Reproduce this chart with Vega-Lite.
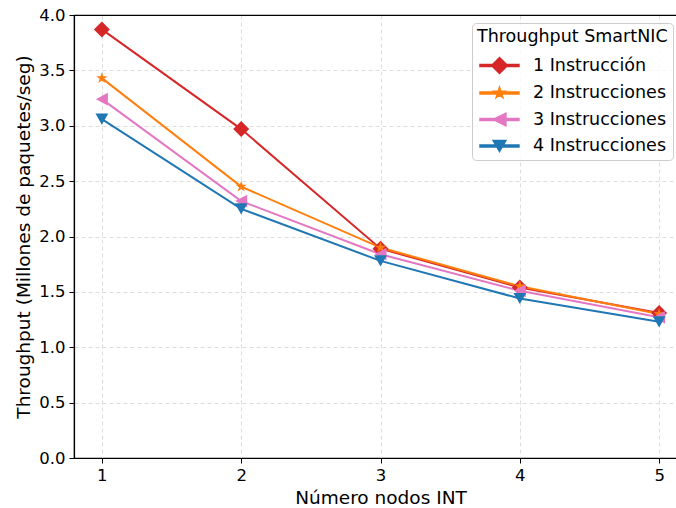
{
  "$schema": "https://vega.github.io/schema/vega-lite/v6.json",
  "width": 613,
  "height": 443,
  "autosize": {"type": "none"},
  "padding": {"left": 74, "top": 15, "right": 0, "bottom": 50},
  "background": "white",
  "config": {
    "font": "DejaVu Sans",
    "view": {"stroke": "black", "strokeWidth": 1.2},
    "axis": {
      "domainColor": "black", "domainWidth": 1.2,
      "tickColor": "black", "tickSize": 5, "tickWidth": 1,
      "labelColor": "black", "labelFontSize": 16.5, "labelFont": "DejaVu Sans",
      "titleColor": "black", "titleFontSize": 18.5, "titleFontWeight": "normal", "titleFont": "DejaVu Sans",
      "gridWidth": 0.9
    }
  },
  "data": {"values": [
    {"serie": "1 Instrucción", "nodos": 1, "tp": 3.87},
    {"serie": "1 Instrucción", "nodos": 2, "tp": 2.97},
    {"serie": "1 Instrucción", "nodos": 3, "tp": 1.89},
    {"serie": "1 Instrucción", "nodos": 4, "tp": 1.54},
    {"serie": "1 Instrucción", "nodos": 5, "tp": 1.31},
    {"serie": "2 Instrucciones", "nodos": 1, "tp": 3.43},
    {"serie": "2 Instrucciones", "nodos": 2, "tp": 2.45},
    {"serie": "2 Instrucciones", "nodos": 3, "tp": 1.90},
    {"serie": "2 Instrucciones", "nodos": 4, "tp": 1.55},
    {"serie": "2 Instrucciones", "nodos": 5, "tp": 1.30},
    {"serie": "3 Instrucciones", "nodos": 1, "tp": 3.24},
    {"serie": "3 Instrucciones", "nodos": 2, "tp": 2.32},
    {"serie": "3 Instrucciones", "nodos": 3, "tp": 1.84},
    {"serie": "3 Instrucciones", "nodos": 4, "tp": 1.51},
    {"serie": "3 Instrucciones", "nodos": 5, "tp": 1.27},
    {"serie": "4 Instrucciones", "nodos": 1, "tp": 3.06},
    {"serie": "4 Instrucciones", "nodos": 2, "tp": 2.25},
    {"serie": "4 Instrucciones", "nodos": 3, "tp": 1.78},
    {"serie": "4 Instrucciones", "nodos": 4, "tp": 1.44},
    {"serie": "4 Instrucciones", "nodos": 5, "tp": 1.23}
  ]},
  "encoding": {
    "x": {
      "field": "nodos", "type": "quantitative",
      "scale": {"domain": [0.8, 5.2], "nice": false, "zero": false},
      "axis": {"values": [1, 2, 3, 4, 5], "format": "d", "title": "Número nodos INT", "labelPadding": 4, "titlePadding": 5, "grid": true, "gridColor": "#d8d8d8", "gridDash": [4, 3]}
    },
    "y": {
      "field": "tp", "type": "quantitative",
      "scale": {"domain": [0, 4], "nice": false},
      "axis": {
        "values": [0, 0.5, 1, 1.5, 2, 2.5, 3, 3.5, 4], "format": ".1f",
        "title": "Throughput (Millones de paquetes/seg)", "labelPadding": 4, "titlePadding": 5, "grid": true,
        "gridColor": {"condition": {"test": "datum.value >= 4", "value": "black"}, "value": "#d8d8d8"},
        "gridDash": {"condition": {"test": "datum.value >= 4", "value": []}, "value": [4, 3]},
        "gridWidth": {"condition": {"test": "datum.value >= 4", "value": 1.2}, "value": 0.9}
      }
    },
    "color": {
      "field": "serie", "type": "nominal",
      "scale": {
        "domain": ["1 Instrucción", "2 Instrucciones", "3 Instrucciones", "4 Instrucciones"],
        "range": ["#d62728", "#ff7f0e", "#e377c2", "#1f77b4"]
      },
      "legend": {
        "title": "Throughput SmartNIC",
        "orient": "none", "legendX": 398, "legendY": 8,
        "padding": 5,
        "fillColor": "rgba(255,255,255,0.8)", "strokeColor": "#cccccc", "cornerRadius": 4,
        "titleFontSize": 17.5, "titleFontWeight": "normal", "titleColor": "black", "titlePadding": 11, "titleLimit": 400,
        "labelFontSize": 17.5, "labelColor": "black", "labelOffset": 38, "labelLimit": 400,
        "symbolSize": 256, "rowPadding": 7.5,
        "encode": {
          "symbols": {
            "update": {
              "shape": {"signal": "datum.value === '1 Instrucción' ? 'M-0.75,-0.12H4.12V0.12H-0.75Z M0.69,0L1.69,-1L2.69,0L1.69,1Z' : datum.value === '2 Instrucciones' ? 'M-0.75,-0.12H4.12V0.12H-0.75Z M1.69,-0.72L1.852,-0.222L2.375,-0.222L1.951,0.085L2.113,0.582L1.69,0.275L1.267,0.582L1.429,0.085L1.005,-0.222L1.528,-0.222Z' : datum.value === '3 Instrucciones' ? 'M-0.75,-0.12H4.12V0.12H-0.75Z M0.89,0L2.49,-0.8L2.49,0.8Z' : 'M-0.75,-0.12H4.12V0.12H-0.75Z M0.89,-0.7L2.49,-0.7L1.69,0.7Z'"},
              "fill": {"scale": "color", "field": "value"},
              "stroke": {"value": "transparent"},
              "opacity": {"value": 1},
              "fillOpacity": {"value": 1}
            }
          }
        }
      }
    }
  },
  "layer": [
    {
      "mark": {"type": "line", "strokeWidth": 2}
    },
    {
      "transform": [{"filter": "datum.serie === '1 Instrucción'"}],
      "mark": {"type": "point", "filled": true, "opacity": 1, "size": 256, "shape": "M-1,0L0,-1L1,0L0,1Z"}
    },
    {
      "transform": [{"filter": "datum.serie === '2 Instrucciones'"}],
      "mark": {"type": "point", "filled": true, "opacity": 1, "size": 256, "shape": "M0,-0.75L0.168,-0.232L0.713,-0.232L0.272,0.089L0.441,0.607L0,0.287L-0.441,0.607L-0.272,0.089L-0.713,-0.232L-0.168,-0.232Z"}
    },
    {
      "transform": [{"filter": "datum.serie === '3 Instrucciones'"}],
      "mark": {"type": "point", "filled": true, "opacity": 1, "size": 256, "shape": "M-0.75,0L0.75,-0.8L0.75,0.8Z"}
    },
    {
      "transform": [{"filter": "datum.serie === '4 Instrucciones'"}],
      "mark": {"type": "point", "filled": true, "opacity": 1, "size": 256, "shape": "M-0.8,-0.7L0.8,-0.7L0,0.7Z"}
    }
  ]
}
